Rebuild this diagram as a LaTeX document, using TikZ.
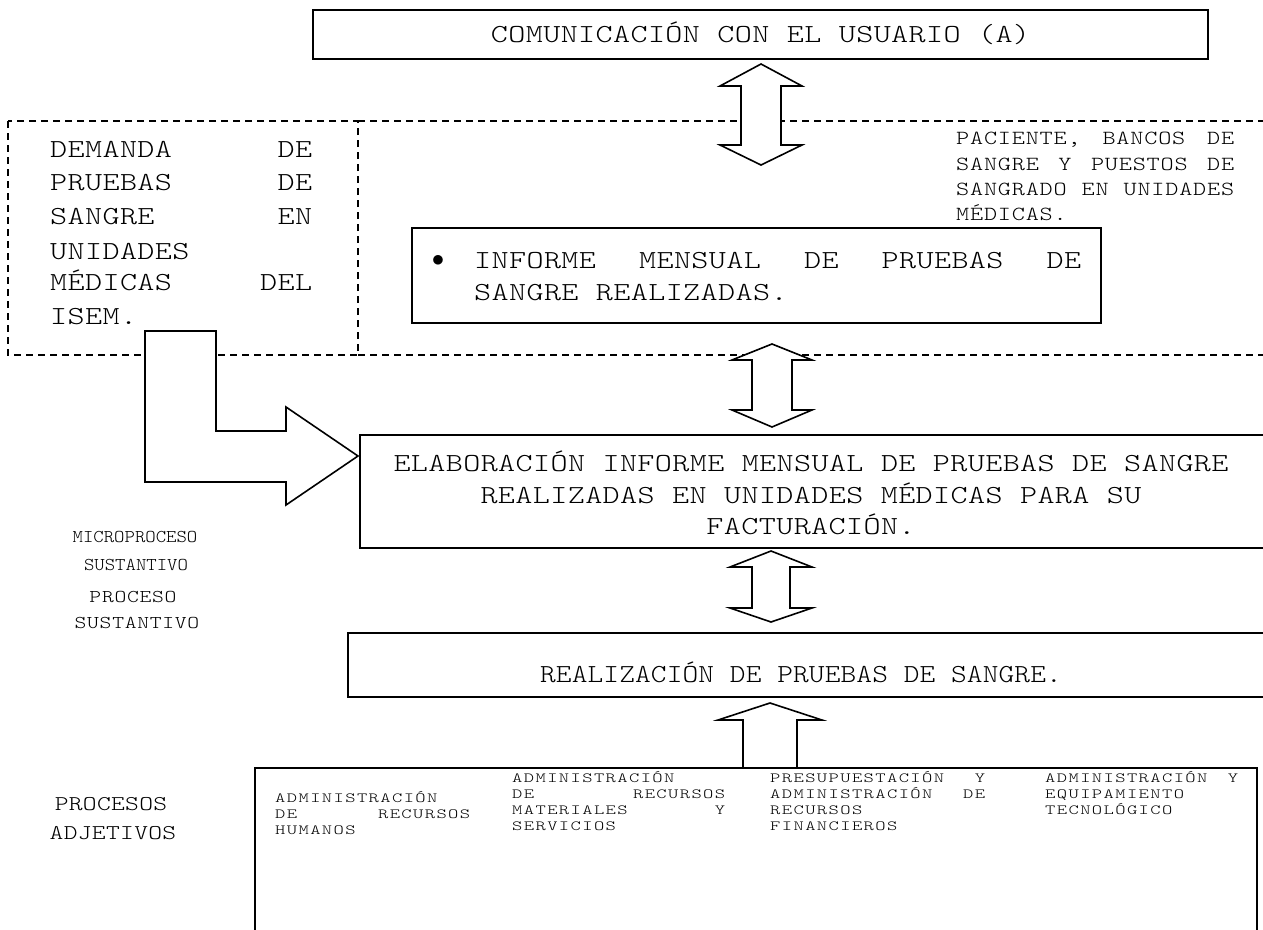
\documentclass[tikz,border=0pt]{standalone}
\usepackage{fontspec}
\newfontfamily\fA{lmmonolt10-regular}[Extension=.otf,FakeStretch=1.25,LetterSpace=1.5]
\newfontfamily\fR{lmmonolt10-regular}[Extension=.otf,FakeStretch=1.15,LetterSpace=0.5]
\newfontfamily\fP{lmmonolt10-regular}[Extension=.otf,FakeStretch=1.25,LetterSpace=4]
\newfontfamily\fM{lmmonolt10-regular}[Extension=.otf,FakeStretch=1.1,LetterSpace=0]
\newfontfamily\fS{lmmonolt10-regular}[Extension=.otf,FakeStretch=1.4,LetterSpace=10]
\newcommand\jl[2]{\makebox[#1][s]{#2}}
\tikzset{
  box/.style={draw, line width=1.6pt, inner sep=0pt},
  dbox/.style={draw, line width=1.3pt, dash pattern=on 7pt off 5pt},
  barrow/.style={draw, fill=white, line width=1.6pt, line join=miter},
  big/.style={font=\fA\fontsize{26}{30}\selectfont},
  real/.style={font=\fR\fontsize{26}{30}\selectfont},
  pac/.style={font=\fP\fontsize{20}{24}\selectfont},
  micro/.style={font=\fM\fontsize{18}{20}\selectfont},
  proc/.style={font=\fP\fontsize{18}{22}\selectfont},
  procs/.style={font=\fA\fontsize{21}{24}\selectfont},
  small/.style={font=\fS\fontsize{14}{16}\selectfont},
  lt/.style={inner sep=0pt, anchor=base west},
  ct/.style={inner sep=0pt, anchor=base},
}
\begin{document}
\begin{tikzpicture}[x=1pt,y=-1pt]
\useasboundingbox (0,0) rectangle (1263,929);
% dashed frame
\draw[dbox] (8,121) rectangle (358,355);
\draw[dbox] (358,121) -- (1275,121);
\draw[dbox] (358,355) -- (1275,355);
% boxes
\node[box, minimum width=895pt, minimum height=49pt] (top) at (760.5,34.5) {};
\node[box, minimum width=689pt, minimum height=95pt] (inf) at (756.5,275.5) {};
\node[box, minimum width=915pt, minimum height=113pt] (elab) at (817.5,491.5) {};
\node[box, minimum width=925pt, minimum height=64pt] (real) at (810.5,665) {};
\node[box, minimum width=1002pt, minimum height=175pt] (adj) at (756,855.5) {};
% block arrows
\draw[barrow] (761,64) -- (802,86) -- (781,86) -- (781,145) -- (802,145) -- (761,165)
  -- (720,145) -- (741,145) -- (741,86) -- (720,86) -- cycle;
\draw[barrow] (772,344) -- (812,360) -- (792,360) -- (792,410) -- (812,410) -- (772,427)
  -- (732,410) -- (752,410) -- (752,360) -- (732,360) -- cycle;
\draw[barrow] (771,551) -- (812,567) -- (790,567) -- (790,608) -- (812,608) -- (771,622)
  -- (730,608) -- (752,608) -- (752,567) -- (730,567) -- cycle;
\draw[barrow] (770,703) -- (822,720) -- (797,720) -- (797,768) -- (743,768) -- (743,720)
  -- (718,720) -- cycle;
\draw[barrow] (145,331) -- (216,331) -- (216,431) -- (286,431) -- (286,407) -- (358,456)
  -- (286,505) -- (286,482) -- (145,482) -- cycle;
% texts
\node[big, ct] (ttop) at (760.5,42) {COMUNICACIÓN CON EL USUARIO (A)};
\node[big, lt] (d1) at (50,157) {\jl{262pt}{DEMANDA DE}};
\node[big, lt] (d2) at (50,190) {\jl{262pt}{PRUEBAS DE}};
\node[big, lt] (d3) at (50,224) {\jl{262pt}{SANGRE EN}};
\node[big, lt] (d4) at (50,259) {UNIDADES};
\node[big, lt] (d5) at (50,290) {\jl{262pt}{MÉDICAS DEL}};
\node[big, lt] (d6) at (50,324) {ISEM.};
\node[pac, lt] (p1) at (956,144) {\jl{278pt}{PACIENTE, BANCOS DE}};
\node[pac, lt] (p2) at (956,170) {\jl{278pt}{SANGRE Y PUESTOS DE}};
\node[pac, lt] (p3) at (956,195) {\jl{278pt}{SANGRADO EN UNIDADES}};
\node[pac, lt] (p4) at (956,220) {MÉDICAS.};
\node[inner sep=0pt] (bul) at (438,261) {\fontsize{26}{28}\selectfont$\bullet$};
\node[big, lt] (i1) at (474,268) {\jl{607pt}{INFORME MENSUAL DE PRUEBAS DE}};
\node[big, lt] (i2) at (474,300) {SANGRE REALIZADAS.};
\node[big, ct] (e1) at (811,471) {ELABORACIÓN INFORME MENSUAL DE PRUEBAS DE SANGRE};
\node[big, ct] (e2) at (811,503) {REALIZADAS EN UNIDADES MÉDICAS PARA SU};
\node[big, ct] (e3) at (811,534) {FACTURACIÓN.};
\node[real, ct] (r1) at (801,682) {REALIZACIÓN DE PRUEBAS DE SANGRE.};
\node[micro, ct] (m1) at (135,542) {MICROPROCESO};
\node[micro, ct] (m2) at (136,570) {SUSTANTIVO};
\node[proc, ct] (s1) at (133,602) {PROCESO};
\node[proc, ct] (s2) at (137,628) {SUSTANTIVO};
\node[procs, ct] (a1) at (111,810) {PROCESOS};
\node[procs, ct] (a2) at (113,839) {ADJETIVOS};
% bottom columns
\node[small, lt] (c11) at (275,802) {ADMINISTRACIÓN};
\node[small, lt] (c12) at (275,818) {\jl{195pt}{DE RECURSOS}};
\node[small, lt] (c13) at (275,834) {HUMANOS};
\node[small, lt] (c21) at (512,782) {ADMINISTRACIÓN};
\node[small, lt] (c22) at (512,798) {\jl{213pt}{DE RECURSOS}};
\node[small, lt] (c23) at (512,814) {\jl{213pt}{MATERIALES Y}};
\node[small, lt] (c24) at (512,830) {SERVICIOS};
\node[small, lt] (c31) at (770,782) {\jl{215pt}{PRESUPUESTACIÓN Y}};
\node[small, lt] (c32) at (770,798) {\jl{215pt}{ADMINISTRACIÓN DE}};
\node[small, lt] (c33) at (770,814) {RECURSOS};
\node[small, lt] (c34) at (770,830) {FINANCIEROS};
\node[small, lt] (c41) at (1045,782) {\jl{193pt}{ADMINISTRACIÓN Y}};
\node[small, lt] (c42) at (1045,798) {EQUIPAMIENTO};
\node[small, lt] (c43) at (1045,814) {TECNOLÓGICO};
\end{tikzpicture}
\end{document}
